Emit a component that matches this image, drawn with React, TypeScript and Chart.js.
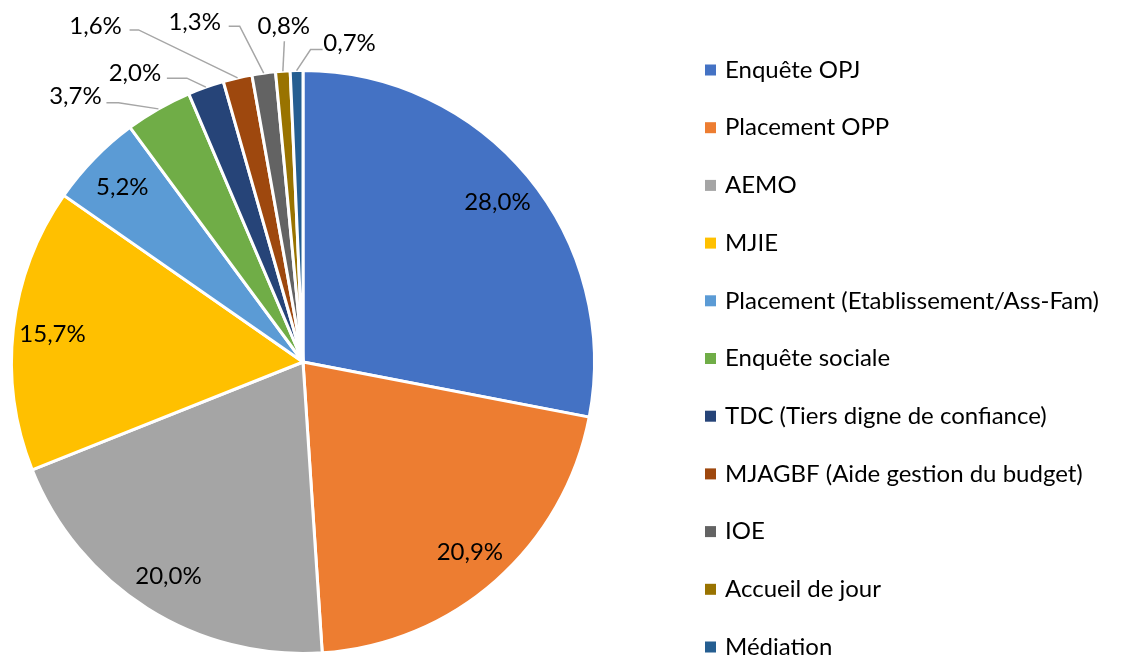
import React, { useEffect, useRef } from 'react';
import { Chart, registerables } from 'chart.js';

Chart.register(...registerables);

const categories = [
  'Enquête OPJ',
  'Placement OPP',
  'AEMO',
  'MJIE',
  'Placement (Etablissement/Ass-Fam)',
  'Enquête sociale',
  'TDC (Tiers digne de confiance)',
  'MJAGBF (Aide gestion du budget)',
  'IOE',
  'Accueil de jour',
  'Médiation',
];

const values = [28.0, 20.9, 20.0, 15.7, 5.2, 3.7, 2.0, 1.6, 1.3, 0.8, 0.7];

const valueLabels = ['28,0%', '20,9%', '20,0%', '15,7%', '5,2%', '3,7%', '2,0%', '1,6%', '1,3%', '0,8%', '0,7%'];

const colors = [
  '#4472C4', '#ED7D31', '#A5A5A5', '#FFC000', '#5B9BD5', '#70AD47',
  '#264478', '#9E480E', '#636363', '#997300', '#255E91',
];

const FONT = '24px Lato';

// Placement of the labels that sit outside the pie (offsets from the arc's outer midpoint)
const outsideLayout: Record<number, { label: [number, number]; line: [number, number][] }> = {
  5: { label: [-83, -13], line: [[-52, -6], [-40, -6]] },
  6: { label: [-71, -14], line: [[-39, -9], [-19, -9]] },
  7: { label: [-142, -52], line: [[-108, -48], [-99, -48]] },
  8: { label: [-69, -51], line: [[-35, -47], [-24, -47]] },
  9: { label: [1, -45], line: [[1.5, -30]] },
  10: { label: [53, -27], line: [[26, -21], [14, -21]] },
};

const sliceLabelsPlugin = {
  id: 'sliceLabels',
  afterDatasetsDraw(chart: any) {
    const ctx = chart.ctx as CanvasRenderingContext2D;
    const meta = chart.getDatasetMeta(0);
    ctx.save();
    ctx.font = FONT;
    ctx.fillStyle = '#000000';
    ctx.textAlign = 'center';
    ctx.textBaseline = 'middle';
    meta.data.forEach((arc: any, i: number) => {
      const { x, y, startAngle, endAngle, outerRadius } = arc.getProps(
        ['x', 'y', 'startAngle', 'endAngle', 'outerRadius'],
        true
      );
      const mid = (startAngle + endAngle) / 2;
      const lay = outsideLayout[i];
      if (!lay) {
        const r = outerRadius * 0.865;
        ctx.fillText(valueLabels[i], x + Math.cos(mid) * r, y + Math.sin(mid) * r + 1);
      } else {
        const ax = x + Math.cos(mid) * outerRadius;
        const ay = y + Math.sin(mid) * outerRadius;
        ctx.strokeStyle = '#A6A6A6';
        ctx.lineWidth = 1.5;
        ctx.beginPath();
        lay.line.forEach((p, k) => {
          if (k === 0) ctx.moveTo(ax + p[0], ay + p[1]);
          else ctx.lineTo(ax + p[0], ay + p[1]);
        });
        ctx.lineTo(ax, ay);
        ctx.stroke();
        ctx.fillText(valueLabels[i], ax + lay.label[0], ay + lay.label[1]);
      }
    });
    ctx.restore();
  },
};

const legendPlugin = {
  id: 'sideLegend',
  afterDraw(chart: any) {
    const ctx = chart.ctx as CanvasRenderingContext2D;
    const labels = chart.data.labels as string[];
    const bg = chart.data.datasets[0].backgroundColor as string[];
    const startY = 70;
    const step = 57.7;
    ctx.save();
    ctx.font = FONT;
    ctx.textAlign = 'left';
    ctx.textBaseline = 'middle';
    labels.forEach((lab, i) => {
      const cy = startY + i * step;
      ctx.fillStyle = bg[i];
      ctx.fillRect(705, cy - 5.5, 11, 11);
      ctx.fillStyle = '#000000';
      ctx.fillText(lab, 725, cy);
    });
    ctx.restore();
  },
};

export default function App() {
  const canvasRef = useRef<HTMLCanvasElement | null>(null);

  useEffect(() => {
    if (!canvasRef.current) return;
    const chart = new Chart(canvasRef.current, {
      type: 'pie',
      data: {
        labels: categories,
        datasets: [
          {
            data: values,
            backgroundColor: colors,
            borderColor: '#FFFFFF',
            borderWidth: 3,
          },
        ],
      },
      options: {
        animation: false,
        responsive: false,
        maintainAspectRatio: false,
        layout: { padding: { left: 10, top: 69, right: 530, bottom: 2 } },
        plugins: {
          legend: { display: false },
          tooltip: { enabled: false },
        },
      },
      plugins: [sliceLabelsPlugin, legendPlugin],
    });
    return () => chart.destroy();
  }, []);

  return (
    <div style={{ position: 'fixed', left: 0, top: 0, width: 1126, height: 657, background: '#FFFFFF' }}>
      <canvas ref={canvasRef} width={1126} height={657} style={{ display: 'block' }} />
    </div>
  );
}
